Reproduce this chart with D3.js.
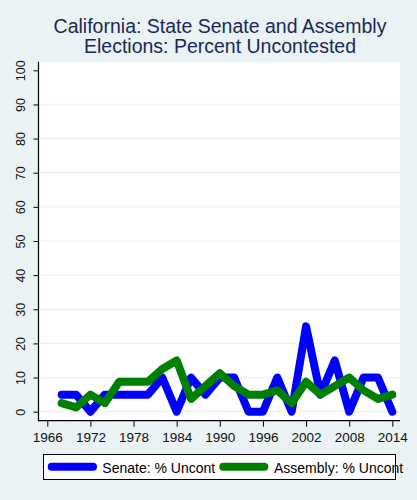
<!DOCTYPE html>
<html>
<head>
<meta charset="utf-8">
<script src="https://cdn.jsdelivr.net/npm/d3@7"></script>
<style>
  html, body { margin: 0; padding: 0; background: #EAF2F3; }
  svg { display: block; font-family: "Liberation Sans", Arial, sans-serif; }
</style>
</head>
<body>
<svg id="chart" width="417" height="500"></svg>
<script>
const years = [1968,1970,1972,1974,1976,1978,1980,1982,1984,1986,1988,1990,1992,1994,1996,1998,2000,2002,2004,2006,2008,2010,2012,2014];
const senate = [5,5,0,5,5,5,5,10,0,10,5,10,10,0,0,10,0,25,5,15,0,10,10,0];
const assembly = [2.5,1.25,5,2.5,8.75,8.75,8.75,12.5,15,3.75,7.5,11.25,7.5,5,5,6.25,2.5,8.75,5,7.5,10,6.25,3.75,5];
const xTicks = [1966,1972,1978,1984,1990,1996,2002,2008,2014];
const yTicks = [0,10,20,30,40,50,60,70,80,90,100];
const titleLines = ["California: State Senate and Assembly", "Elections: Percent Uncontested"];
const seriesNames = ["Senate: % Uncont", "Assembly: % Uncont"];
const seriesColors = ["#0000FF", "#008000"];

const svg = d3.select("#chart");
const plot = {left: 38.5, right: 400, top: 61.7, bottom: 420.7};

svg.append("rect").attr("x",0).attr("y",0).attr("width",417).attr("height",500).attr("fill","#EAF2F3");
svg.append("rect").attr("x",plot.left).attr("y",plot.top)
  .attr("width",plot.right-plot.left).attr("height",plot.bottom-plot.top).attr("fill","#ffffff");

const x = d3.scaleLinear().domain([1966,2014]).range([47.3,392.3]);
const y = d3.scaleLinear().domain([0,100]).range([411.7,70.3]);

// gridlines
svg.append("g").selectAll("line").data(yTicks.filter(d => d < 100)).join("line")
  .attr("x1",plot.left).attr("x2",plot.right)
  .attr("y1",d=>y(d)).attr("y2",d=>y(d))
  .attr("stroke","#EAF2F3").attr("stroke-width",1.2);

// y axis
const yAxis = d3.axisLeft(y).tickValues(yTicks).tickSize(5).tickSizeOuter(0).tickFormat(d3.format("d"));
const gy = svg.append("g").attr("transform",`translate(${plot.left},0)`).call(yAxis);
gy.select(".domain").remove();
gy.selectAll(".tick line").attr("stroke","#000");
gy.selectAll(".tick text").remove();
gy.selectAll(".tick").append("text")
  .attr("transform","translate(-14,0) rotate(-90)")
  .attr("text-anchor","middle").attr("fill","#111")
  .attr("font-size",12.5).attr("font-family","Liberation Sans, Arial, sans-serif")
  .text(d=>d);
svg.append("line").attr("x1",plot.left).attr("x2",plot.left)
  .attr("y1",plot.top).attr("y2",plot.bottom+0.5).attr("stroke","#000").attr("stroke-width",1.2);

// x axis
const xAxis = d3.axisBottom(x).tickValues(xTicks).tickSize(6).tickSizeOuter(0).tickFormat(d3.format("d"));
const gx = svg.append("g").attr("transform",`translate(0,${plot.bottom})`).call(xAxis);
gx.select(".domain").remove();
gx.selectAll(".tick line").attr("stroke","#000");
gx.selectAll(".tick text").attr("fill","#111").attr("font-size",13.5)
  .attr("font-family","Liberation Sans, Arial, sans-serif").attr("dy",null).attr("y",21.5);
svg.append("line").attr("x1",plot.left).attr("x2",plot.right)
  .attr("y1",plot.bottom).attr("y2",plot.bottom).attr("stroke","#000").attr("stroke-width",1.2);

// lines
const allSeries = [senate, assembly];
const lineGen = d3.line().x((d,i)=>x(years[i])).y(d=>y(d));
allSeries.forEach((s,k)=>{
  svg.append("path").datum(s).attr("d",lineGen)
    .attr("fill","none").attr("stroke",seriesColors[k]).attr("stroke-width",8)
    .attr("stroke-linejoin","round").attr("stroke-linecap","round");
});

// title (one text element, two lines)
const title = svg.append("text").attr("text-anchor","middle")
  .attr("font-size",19.5).attr("fill","#1c2953");
title.selectAll("tspan").data(titleLines).join("tspan")
  .attr("x",220).attr("y",(d,i)=>33.3+i*19.4)
  .text(d=>d);

// legend
const lg = svg.append("g");
lg.append("rect").attr("x",43.5).attr("y",454.5).attr("width",352).attr("height",25)
  .attr("fill","#ffffff").attr("stroke","#000").attr("stroke-width",1);
const legendItems = [{x1:51.7,x2:93,tx:102.3},{x1:223.3,x2:264.3,tx:274}];
legendItems.forEach((it,k)=>{
  lg.append("line").attr("x1",it.x1).attr("x2",it.x2).attr("y1",466.7).attr("y2",466.7)
    .attr("stroke",seriesColors[k]).attr("stroke-width",8).attr("stroke-linecap","round");
  lg.append("text").attr("x",it.tx).attr("y",473).attr("font-size",14).attr("fill","#000")
    .text(seriesNames[k]);
});
</script>
</body>
</html>
